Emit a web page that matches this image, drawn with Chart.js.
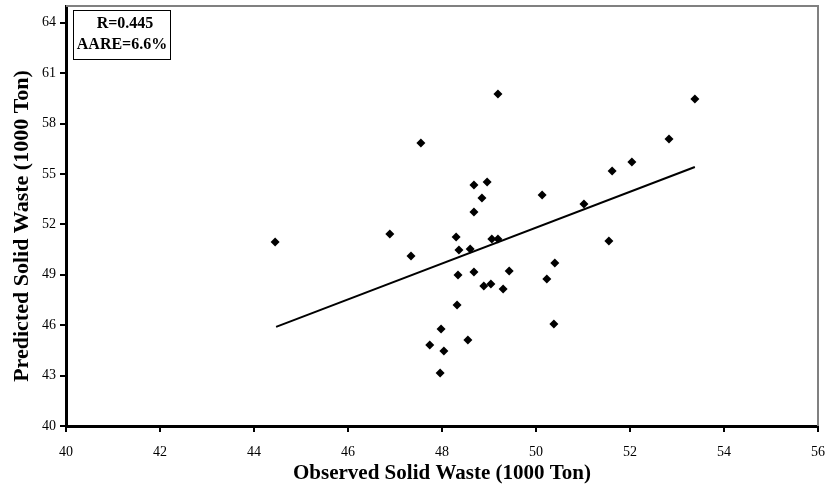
<!DOCTYPE html>
<html lang="en">
<head>
  <meta charset="UTF-8" />
  <title>Observed vs Predicted Solid Waste</title>
  <script src="https://cdn.jsdelivr.net/npm/chart.js"></script>
  <style>
    body { margin: 0; background: #fff; }
    #wrap { width: 828px; height: 489px; }
  </style>
</head>
<body>
  <div id="wrap"><canvas id="chart" width="828" height="489"></canvas></div>
  <script>
    // observed (x) and predicted (y), in 1000 Ton
    const observed = [44.45, 46.89, 47.34, 47.55, 49.19, 48.68, 48.96, 48.85, 48.68, 48.30, 48.36, 48.60,
      49.06, 49.19, 48.34, 48.68, 48.89, 49.04, 49.30, 49.43, 48.32, 47.98, 47.74, 48.04, 48.55, 47.96,
      50.13, 51.02, 51.55, 50.40, 50.23, 50.38, 53.38, 52.83, 52.04, 51.62];
    const predicted = [50.95, 51.43, 50.12, 56.85, 59.76, 54.35, 54.52, 53.57, 52.74, 51.25, 50.48, 50.54,
      51.13, 51.13, 48.99, 49.17, 48.33, 48.45, 48.15, 49.23, 47.20, 45.77, 44.82, 44.46, 45.12, 43.15,
      53.75, 53.21, 51.01, 49.70, 48.75, 46.07, 59.46, 57.08, 55.71, 55.18];
    const trendX = [44.47, 53.38];
    const trendY = [45.9, 55.42];
    const xTicks = [40, 42, 44, 46, 48, 50, 52, 54, 56];
    const yTicks = [40, 43, 46, 49, 52, 55, 58, 61, 64];
    const statLines = ['R=0.445', 'AARE=6.6%'];
    const yTitle = 'Predicted Solid Waste (1000 Ton)';

    const serif = '"Liberation Serif", "Times New Roman", serif';

    const points = observed.map((x, i) => ({ x, y: predicted[i] }));
    const trend = trendX.map((x, i) => ({ x, y: trendY[i] }));

    // gray frame on top/right, the stats box and the y title
    const extras = {
      id: 'extras',
      afterDraw(c) {
        const ctx = c.ctx, a = c.chartArea;
        ctx.save();
        ctx.strokeStyle = '#808080';
        ctx.lineWidth = 2;
        ctx.beginPath();
        ctx.moveTo(a.left, a.top);
        ctx.lineTo(a.right, a.top);
        ctx.lineTo(a.right, a.bottom);
        ctx.stroke();

        ctx.strokeStyle = '#000';
        ctx.lineWidth = 1;
        ctx.strokeRect(a.left + 7.5, a.top + 4.5, 97, 49);
        ctx.fillStyle = '#000';
        ctx.font = 'bold 16px ' + serif;
        ctx.textAlign = 'center';
        ctx.textBaseline = 'middle';
        ctx.fillText(statLines[0], a.left + 59, a.top + 18);
        ctx.fillText(statLines[1], a.left + 56, a.top + 39);

        ctx.translate(22, (a.top + a.bottom) / 2 + 10);
        ctx.rotate(-Math.PI / 2);
        ctx.font = 'bold 22px ' + serif;
        ctx.fillText(yTitle, 0, 0);
        ctx.restore();
      }
    };

    new Chart(document.getElementById('chart'), {
      type: 'scatter',
      data: {
        datasets: [
          {
            data: points,
            pointStyle: 'rectRot',
            pointRadius: 4.5,
            backgroundColor: '#000',
            borderColor: '#000',
            borderWidth: 0,
            showLine: false
          },
          {
            type: 'line',
            data: trend,
            borderColor: '#000',
            borderWidth: 2,
            pointRadius: 0,
            fill: false
          }
        ]
      },
      options: {
        responsive: false,
        animation: false,
        layout: { padding: { top: 6, right: 10, left: 0, bottom: 0 } },
        plugins: { legend: { display: false }, tooltip: { enabled: false } },
        scales: {
          x: {
            type: 'linear',
            min: 40,
            max: 56,
            afterBuildTicks: s => { s.ticks = xTicks.map(v => ({ value: v })); },
            afterFit: s => { s.height = 63; s.paddingLeft = 0; s.paddingRight = 0; },
            ticks: { color: '#000', font: { family: serif, size: 14 }, padding: 12 },
            grid: { drawOnChartArea: false, drawTicks: true, tickLength: 6, color: '#000', lineWidth: 2 },
            border: { display: true, color: '#000', width: 3 },
            title: {
              display: true,
              text: 'Observed Solid Waste (1000 Ton)',
              color: '#000',
              font: { family: serif, size: 21, weight: 'bold' },
              padding: { top: 0, bottom: 3 }
            }
          },
          y: {
            type: 'linear',
            min: 40,
            max: 65,
            afterBuildTicks: s => { s.ticks = yTicks.map(v => ({ value: v })); },
            afterFit: s => { s.width = 66; s.paddingTop = 0; s.paddingBottom = 0; },
            ticks: { color: '#000', font: { family: serif, size: 14 }, padding: 4 },
            grid: { drawOnChartArea: false, drawTicks: true, tickLength: 6, color: '#000', lineWidth: 2 },
            border: { display: true, color: '#000', width: 3 },
            title: { display: false }
          }
        }
      },
      plugins: [extras]
    });
  </script>
</body>
</html>
